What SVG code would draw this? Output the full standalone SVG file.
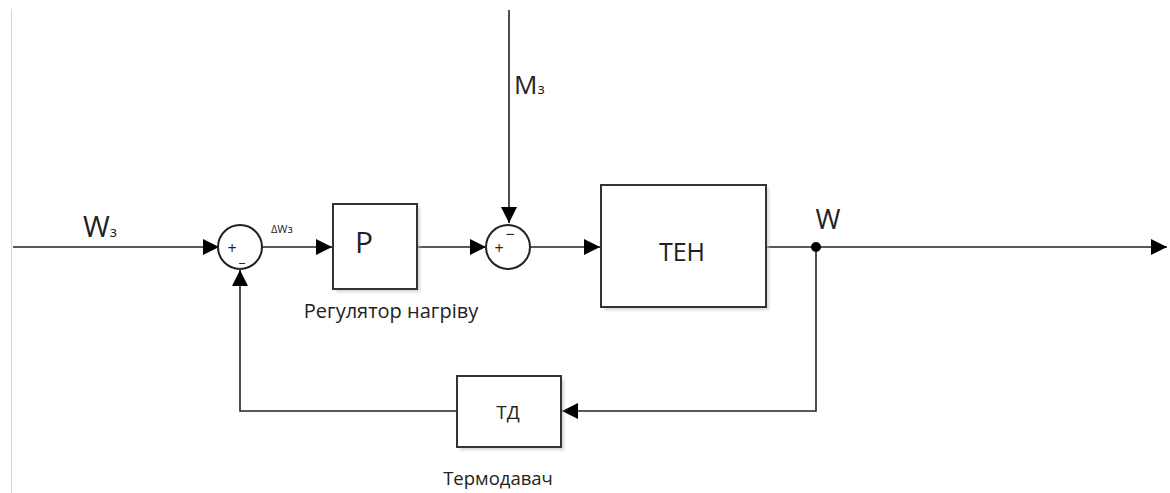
<svg xmlns="http://www.w3.org/2000/svg" width="1170" height="493" viewBox="0 0 1170 493">
<defs>
<style>
.ln{stroke:#222;stroke-width:1.6;fill:none}
.box{fill:#fff;stroke:#333;stroke-width:2}
.sh{fill:#bbb;opacity:0.6}
.t{font-family:"Open Sans","Noto Sans","DejaVu Sans",sans-serif;fill:#222}
.ah{fill:#000}
</style>
<marker id="arr" viewBox="0 0 16 16" refX="16" refY="8" markerWidth="16" markerHeight="16" markerUnits="userSpaceOnUse" orient="auto">
<path d="M0,0 L16,8 L0,16 Z" class="ah"/>
</marker>
<filter id="blur" x="-10%" y="-10%" width="130%" height="130%"><feGaussianBlur stdDeviation="1.5"/></filter>
</defs>
<rect width="1170" height="493" fill="#fff"/>
<line x1="11.5" y1="9" x2="11.5" y2="493" stroke="#d8d8d8" stroke-width="1"/>

<g id="connectors">
<path class="ln" d="M13,247 H219" marker-end="url(#arr)"/>
<path class="ln" d="M262,247 H332" marker-end="url(#arr)"/>
<path class="ln" d="M417,247 H486" marker-end="url(#arr)"/>
<path class="ln" d="M509,10 V223" marker-end="url(#arr)"/>
<path class="ln" d="M530,247 H600" marker-end="url(#arr)"/>
<path class="ln" d="M766,247 H1167" marker-end="url(#arr)"/>
<path class="ln" d="M816,247 V411 H562" marker-end="url(#arr)"/>
<path class="ln" d="M457,411 H240 V270" marker-end="url(#arr)"/>
<circle cx="816" cy="247" r="5" fill="#000"/>
</g>

<g id="label-w3">
<text class="t" x="83" y="237" font-size="29">W<tspan font-size="15">з</tspan></text>
</g>
<g id="label-m3">
<text class="t" x="514" y="94" font-size="26">M<tspan font-size="15">з</tspan></text>
</g>
<g id="label-w">
<text class="t" x="828" y="229" font-size="27" text-anchor="middle">W</text>
</g>
<g id="label-dw">
<text class="t" x="271" y="233" font-size="11">ΔWз</text>
</g>

<g id="sum1">
<circle cx="240" cy="247" r="22" fill="#fff" stroke="#222" stroke-width="2"/>
<text class="t" x="232" y="254" font-size="16" text-anchor="middle">+</text>
<text class="t" x="242" y="262" font-size="14" text-anchor="middle">_</text>
</g>

<g id="sum2">
<circle cx="508" cy="247" r="22" fill="#fff" stroke="#222" stroke-width="2"/>
<text class="t" x="499" y="254" font-size="16" text-anchor="middle">+</text>
<text class="t" x="510" y="240" font-size="16" text-anchor="middle">−</text>
</g>

<g id="regulator">
<rect class="sh" x="336" y="207" width="84" height="85" filter="url(#blur)"/>
<rect class="box" x="333" y="204" width="84" height="85"/>
<text class="t" x="364" y="253" font-size="30" text-anchor="middle">P</text>
<text class="t" x="391" y="318" font-size="20" text-anchor="middle">Регулятор нагріву</text>
</g>

<g id="ten">
<rect class="sh" x="604" y="188" width="165" height="122" filter="url(#blur)"/>
<rect class="box" x="601" y="185" width="165" height="122"/>
<text class="t" x="682" y="261" font-size="25" text-anchor="middle">ТЕН</text>
</g>

<g id="td">
<rect class="sh" x="460" y="379" width="104" height="71" filter="url(#blur)"/>
<rect class="box" x="457" y="376" width="104" height="71"/>
<text class="t" x="508" y="419" font-size="19" text-anchor="middle">ТД</text>
<text class="t" x="498" y="485" font-size="18.5" text-anchor="middle">Термодавач</text>
</g>
</svg>
